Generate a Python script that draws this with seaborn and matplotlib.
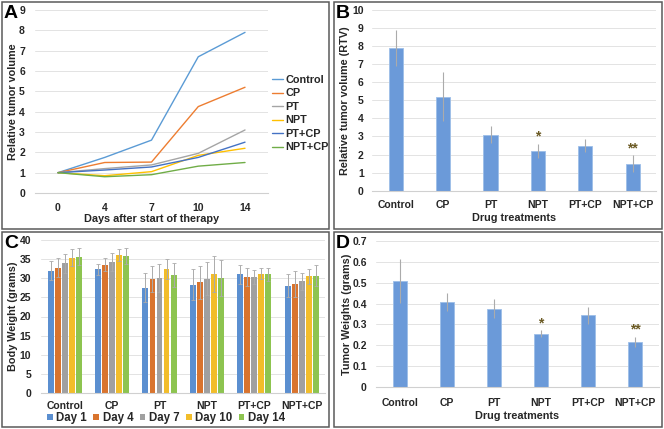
import matplotlib
matplotlib.use('Agg')
import matplotlib.pyplot as plt
from matplotlib.patches import Rectangle
import seaborn as sns
import pandas as pd

# data
groups = ['Control', 'CP', 'PT', 'NPT', 'PT+CP', 'NPT+CP']
days = ['0', '4', '7', '10', '14']

# A: relative tumor volume over time
rtv_control = [1.0, 1.75, 2.6, 6.7, 7.9]
rtv_cp = [1.0, 1.5, 1.52, 4.25, 5.2]
rtv_pt = [1.0, 1.2, 1.38, 1.95, 3.1]
rtv_npt = [1.0, 0.85, 1.05, 1.85, 2.2]
rtv_ptcp = [1.0, 1.13, 1.28, 1.75, 2.5]
rtv_nptcp = [1.0, 0.8, 0.9, 1.32, 1.5]
line_colors = ['#5B9BD5', '#ED7D31', '#A5A5A5', '#FFC000', '#4472C4', '#70AD47']

# B: final RTV
rtv_final = [7.9, 5.2, 3.1, 2.2, 2.5, 1.5]
rtv_err = [1.0, 1.35, 0.48, 0.4, 0.34, 0.46]
rtv_stars = ['', '', '', '*', '', '**']

# C: body weight per day
day_labels = ['Day 1', 'Day 4', 'Day 7', 'Day 10', 'Day 14']
bw_day1 = [32.0, 32.3, 27.5, 28.35, 31.0, 28.0]
bw_day4 = [32.8, 33.5, 29.7, 29.0, 30.3, 28.5]
bw_day7 = [33.9, 34.2, 30.1, 29.9, 30.35, 29.2]
bw_day10 = [35.4, 36.1, 32.4, 31.0, 31.2, 30.5]
bw_day14 = [35.65, 35.8, 30.8, 30.1, 31.0, 30.7]
bw_err1 = [2.4, 1.4, 3.8, 4.1, 2.4, 3.0]
bw_err4 = [2.4, 1.7, 3.4, 4.3, 2.35, 3.5]
bw_err7 = [2.4, 2.3, 3.6, 4.3, 1.8, 2.2]
bw_err10 = [2.2, 1.55, 2.6, 4.7, 1.5, 1.9]
bw_err14 = [2.2, 2.0, 3.2, 4.8, 1.8, 2.8]
day_colors = ['#5B8FD0', '#D9742E', '#A0A0A0', '#F2BD2A', '#8DC450']

# D: tumor weights
tw = [0.51, 0.408, 0.376, 0.256, 0.344, 0.216]
tw_err = [0.105, 0.045, 0.046, 0.016, 0.04, 0.026]
tw_stars = ['', '', '', '*', '', '**']

bar_blue = '#6B9AD9'
err_col = '#ABABAB'
grid_col = '#E3E3E3'
txt_col = '#262626'

sns.set_theme(style='white')
plt.rcParams['font.family'] = ['Liberation Sans', 'DejaVu Sans']
plt.rcParams['font.weight'] = 'bold'
plt.rcParams['axes.labelweight'] = 'bold'

W, H = 664, 429
fig = plt.figure(figsize=(6.64, 4.29), dpi=100)


def px_axes(x0, y0, x1, y1):
    # pixel box (top-left origin) -> axes
    return fig.add_axes([x0 / W, 1 - y1 / H, (x1 - x0) / W, (y1 - y0) / H])


def style(ax, ypad, xpad, ylab, ylx, xlab=None, xly=None, fs=7.5):
    ax.set_axisbelow(True)
    ax.yaxis.grid(True, color=grid_col, lw=0.7)
    ax.xaxis.grid(False)
    for s in ['top', 'right', 'left']:
        ax.spines[s].set_visible(False)
    ax.spines['bottom'].set_color('#D0D0D0')
    ax.spines['bottom'].set_linewidth(0.8)
    ax.tick_params(axis='both', length=0, labelsize=fs, colors=txt_col)
    ax.tick_params(axis='y', pad=ypad)
    ax.tick_params(axis='x', pad=xpad)
    for t in ax.get_xticklabels() + ax.get_yticklabels():
        t.set_fontweight('bold')
    ax.set_ylabel(ylab, fontsize=7.8, color=txt_col)
    ax.yaxis.set_label_coords(ylx, 0.5)
    ax.yaxis.label.set_va('center')
    if xlab:
        ax.set_xlabel(xlab, fontsize=7.8, color=txt_col)
        ax.xaxis.set_label_coords(0.5, xly)
        ax.xaxis.label.set_va('center')
    else:
        ax.set_xlabel('')


# ---------- A ----------
axA = px_axes(34.6, 10, 268.4, 193)
dfA = pd.DataFrame({
    'day': days * 6,
    'rtv': rtv_control + rtv_cp + rtv_pt + rtv_npt + rtv_ptcp + rtv_nptcp,
    'group': [g for g in groups for _ in days],
})
sns.lineplot(data=dfA, x='day', y='rtv', hue='group', palette=line_colors,
             sort=False, lw=1.0, ax=axA)
axA.set_xlim(-0.5, 4.5)
axA.set_ylim(0, 9)
axA.set_yticks(range(10))
style(axA, 7, 7, 'Relative tumor volume', -0.092,
      'Days after start of therapy', -0.142)
axA.legend(loc='upper left', bbox_to_anchor=(272 / W, 1 - 75 / H),
           bbox_transform=fig.transFigure, frameon=False,
           prop={'size': 7.8, 'weight': 'bold'}, labelspacing=0.32,
           handlelength=1.0, handletextpad=0.2, borderpad=0, borderaxespad=0,
           labelcolor=txt_col)


def single_bars(ax, vals, errs, stars, ymax, yticks, fmt):
    df = pd.DataFrame({'group': groups, 'val': vals})
    sns.barplot(data=df, x='group', y='val', color=bar_blue, width=0.3,
                saturation=1, edgecolor='#9DBEE8', linewidth=0.6, ax=ax)
    ax.errorbar(range(len(groups)), vals, yerr=errs, fmt='none',
                ecolor=err_col, elinewidth=0.8, capsize=0)
    for i, s in enumerate(stars):
        if s:
            ax.annotate(s, xy=(i, vals[i] + errs[i]), xytext=(0, 5),
                        textcoords='offset points', ha='center', va='center',
                        fontsize=10, color='#6b5a24', fontweight='bold')
    ax.set_xlim(-0.5, 5.5)
    ax.set_ylim(0, ymax)
    ax.set_yticks(yticks)
    ax.set_yticklabels([fmt(v) for v in yticks])


# ---------- B ----------
axB = px_axes(372, 10, 656.4, 190.7)
single_bars(axB, rtv_final, rtv_err, rtv_stars, 10, list(range(11)), lambda v: f'{v}')
style(axB, 6, 7, 'Relative tumor volume (RTV)', -0.095, 'Drug treatments', -0.152)

# ---------- C ----------
axC = px_axes(41, 240, 325.4, 393)
dfC = pd.DataFrame({
    'group': groups * 5,
    'day': [d for d in day_labels for _ in groups],
    'bw': bw_day1 + bw_day4 + bw_day7 + bw_day10 + bw_day14,
})
errsC = [bw_err1, bw_err4, bw_err7, bw_err10, bw_err14]
sns.barplot(data=dfC, x='group', y='bw', hue='day', palette=day_colors,
            width=0.74, gap=0.15, saturation=1, errorbar=None,
            linewidth=0, ax=axC)
for cont, errs in zip(axC.containers, errsC):
    xs = [p.get_x() + p.get_width() / 2 for p in cont]
    hs = [p.get_height() for p in cont]
    axC.errorbar(xs, hs, yerr=errs, fmt='none', ecolor=err_col,
                 elinewidth=0.7, capsize=1.2, capthick=0.6)
axC.set_xlim(-0.5, 5.5)
axC.set_ylim(0, 40)
axC.set_yticks(range(0, 41, 5))
style(axC, 7, 6, 'Body Weight (grams)', -0.098)
axC.legend(loc='center', bbox_to_anchor=(166 / W, 1 - 418 / H),
           bbox_transform=fig.transFigure, ncol=5, frameon=False,
           prop={'size': 8.3, 'weight': 'bold'}, handlelength=0.5,
           handleheight=0.5, handletextpad=0.3, columnspacing=0.55,
           borderpad=0, labelcolor=txt_col)

# ---------- D ----------
axD = px_axes(376.5, 241, 658.5, 387)
single_bars(axD, tw, tw_err, tw_stars, 0.7, [0, 0.1, 0.2, 0.3, 0.4, 0.5, 0.6, 0.7],
            lambda v: '0' if v == 0 else f'{v:.1f}')
style(axD, 7, 8, 'Tumor Weights (grams)', -0.103, 'Drug treatments', -0.2)

# panel frames and letters
for (x0, y0, x1, y1), lab in zip([(2, 2, 329, 229), (334, 2, 662, 229),
                                  (2, 232, 329, 427), (334, 232, 662, 427)],
                                 ['A', 'B', 'C', 'D']):
    fig.add_artist(Rectangle((x0 / W, 1 - y1 / H), (x1 - x0) / W, (y1 - y0) / H,
                             transform=fig.transFigure, fill=False,
                             edgecolor='#5A5A5A', lw=1.1))
    fig.text((x0 + 2) / W, 1 - (y0 + 3) / H, lab, fontsize=14,
             fontweight='bold', ha='left', va='top', color='black')

fig.savefig('out.png', dpi=100)
